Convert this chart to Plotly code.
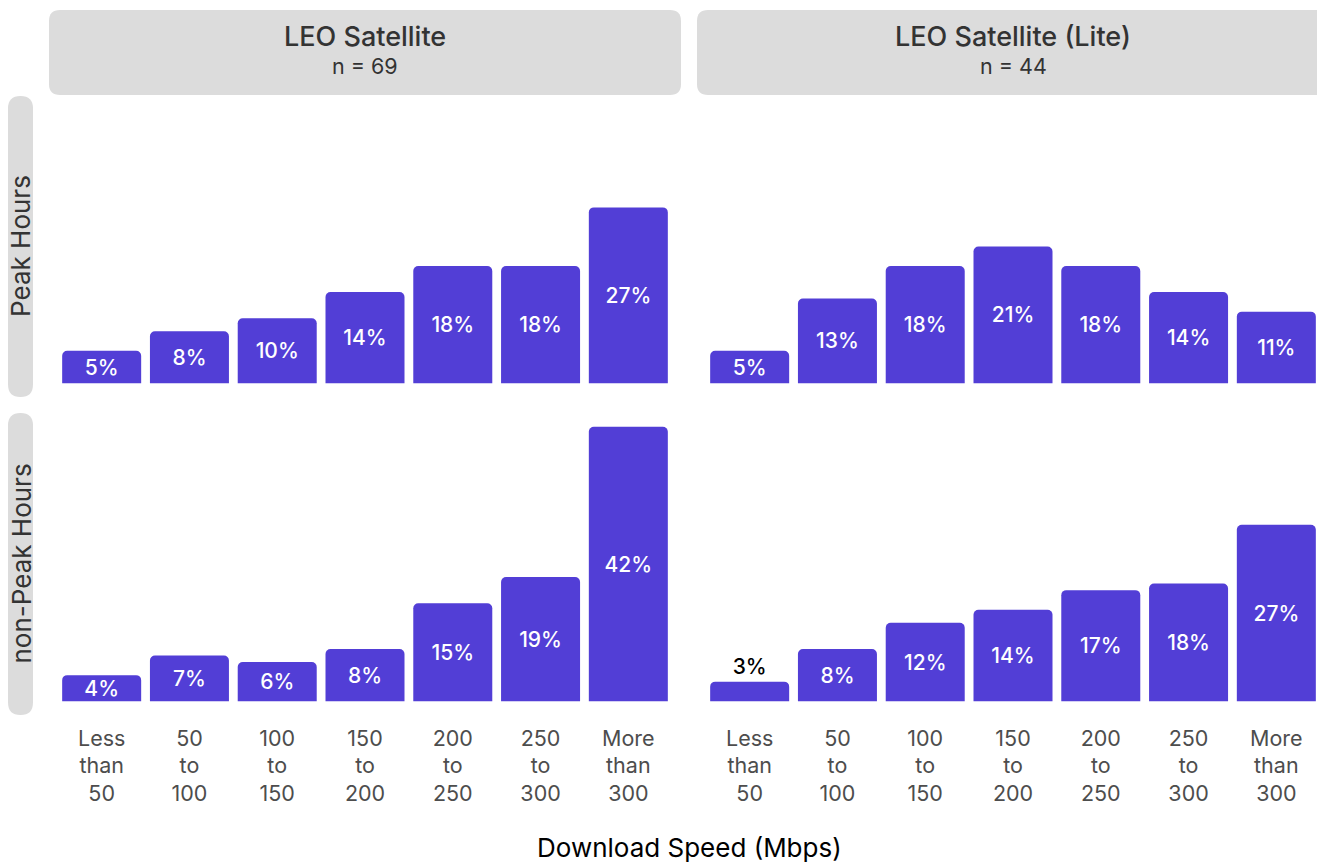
import plotly.graph_objects as go

# ---------------- data ----------------
categories = ["Less<br>than<br>50", "50<br>to<br>100", "100<br>to<br>150", "150<br>to<br>200",
              "200<br>to<br>250", "250<br>to<br>300", "More<br>than<br>300"]
columns = ["LEO Satellite", "LEO Satellite (Lite)"]
column_n = [69, 44]
rows = ["Peak Hours", "non-Peak Hours"]

leo_peak = [5, 8, 10, 14, 18, 18, 27]
leo_offpeak = [4, 7, 6, 8, 15, 19, 42]
lite_peak = [5, 13, 18, 21, 18, 14, 11]
lite_offpeak = [3, 8, 12, 14, 17, 18, 27]

x_title = "Download Speed (Mbps)"

# ---------------- styling ----------------
W, H = 1317, 862
BAR = "#523ED6"
STRIP = "#DCDCDC"
FONT = "Inter"
TXT = "#333333"

def px(x):
    return x / W

def py(y):
    return 1 - y / H

# panel pixel boxes
col_x = [(49, 681), (697, 1329)]
row_y = [(96, 397), (413, 715)]
unit = (681 - 49) / 7.2

fig = go.Figure()

panels = [
    (0, 0, leo_peak), (1, 0, lite_peak),
    (0, 1, leo_offpeak), (1, 1, lite_offpeak),
]

for i, (c, r, vals) in enumerate(panels):
    k = "" if i == 0 else str(i + 1)
    xa, ya = "x" + k, "y" + k
    pos = ["outside" if v < 4 else "inside" for v in vals]
    fig.add_trace(go.Bar(
        x=list(range(len(categories))), y=vals, xaxis=xa, yaxis=ya,
        marker=dict(color=BAR, line=dict(width=0)),
        width=0.9,
        text=[f"{v}%" for v in vals],
        textposition=pos,
        insidetextanchor="middle",
        constraintext="none",
        insidetextfont=dict(color="white", size=21, family=FONT, weight=500),
        outsidetextfont=dict(color="black", size=21, family=FONT, weight=500),
        cliponaxis=False,
        showlegend=False,
        hoverinfo="skip",
    ))
    x0, x1 = col_x[c]
    y0, y1 = row_y[r]
    xend = min(x1, W)
    xr_end = -0.6 + (xend - x0) / unit
    fig.layout["xaxis" + k] = dict(
        domain=[px(x0), px(xend)], range=[-0.6, xr_end], anchor=ya,
        showgrid=False, zeroline=False, showline=False, ticks="",
        tickmode="array", tickvals=list(range(len(categories))),
        ticktext=categories, showticklabels=(r == 1),
        tickfont=dict(size=21.5, color="#4D4D4D", family=FONT),
        ticklabelstandoff=8,
        fixedrange=True,
    )
    fig.layout["yaxis" + k] = dict(
        domain=[py(y1), py(y0)], range=[-2.1, 44.1], anchor=xa,
        showgrid=False, zeroline=False, showline=False, showticklabels=False,
        fixedrange=True,
    )

def rounded_path(x0, y0, x1, y1, r):
    # pixel coords (top-left origin) -> paper path with quadratic corners
    rx, ry = r / W, r / H
    X0, X1 = px(x0), px(x1)
    Yt, Yb = py(y0), py(y1)
    return (f"M {X0+rx},{Yt} L {X1-rx},{Yt} Q {X1},{Yt} {X1},{Yt-ry} "
            f"L {X1},{Yb+ry} Q {X1},{Yb} {X1-rx},{Yb} "
            f"L {X0+rx},{Yb} Q {X0},{Yb} {X0},{Yb+ry} "
            f"L {X0},{Yt-ry} Q {X0},{Yt} {X0+rx},{Yt} Z")

shapes = []
annotations = []
# column strips
for c, (name, n) in enumerate(zip(columns, column_n)):
    x0, x1 = col_x[c]
    shapes.append(dict(type="path", xref="paper", yref="paper",
                       path=rounded_path(x0, 10, x1, 95, 11),
                       fillcolor=STRIP, line=dict(width=0), layer="below"))
    cx = (x0 + x1) / 2
    annotations.append(dict(x=px(cx), y=py(36), xref="paper", yref="paper",
                            text=name, showarrow=False, xanchor="center", yanchor="middle",
                            font=dict(size=27, color=TXT, family=FONT, weight=500)))
    annotations.append(dict(x=px(cx), y=py(66), xref="paper", yref="paper",
                            text=f"n = {n}", showarrow=False, xanchor="center", yanchor="middle",
                            font=dict(size=21.5, color=TXT, family=FONT)))
# row strips
for r, name in enumerate(rows):
    y0, y1 = row_y[r]
    shapes.append(dict(type="path", xref="paper", yref="paper",
                       path=rounded_path(8, y0, 33, y1, 12.5),
                       fillcolor=STRIP, line=dict(width=0), layer="below"))
    annotations.append(dict(x=px(20.5), y=py((y0 + y1) / 2), xref="paper", yref="paper",
                            text=name, showarrow=False, textangle=-90,
                            xanchor="center", yanchor="middle",
                            font=dict(size=26, color=TXT, family=FONT)))
# x axis title
annotations.append(dict(x=px(689), y=py(847), xref="paper", yref="paper",
                        text=x_title, showarrow=False, xanchor="center", yanchor="middle",
                        font=dict(size=26, color="black", family=FONT)))

fig.update_layout(
    width=W, height=H,
    margin=dict(l=0, r=0, t=0, b=0),
    paper_bgcolor="white", plot_bgcolor="white",
    shapes=shapes, annotations=annotations,
    font=dict(family=FONT),
    bargap=0.1,
    barcornerradius=5,
    uniformtext=dict(minsize=21, mode="show"),
)

fig.write_html(
    "out.html",
    config={"displayModeBar": False},
    post_script="document.documentElement.style.margin='0';document.body.style.margin='0';"
                "document.body.style.overflow='hidden';",
)
